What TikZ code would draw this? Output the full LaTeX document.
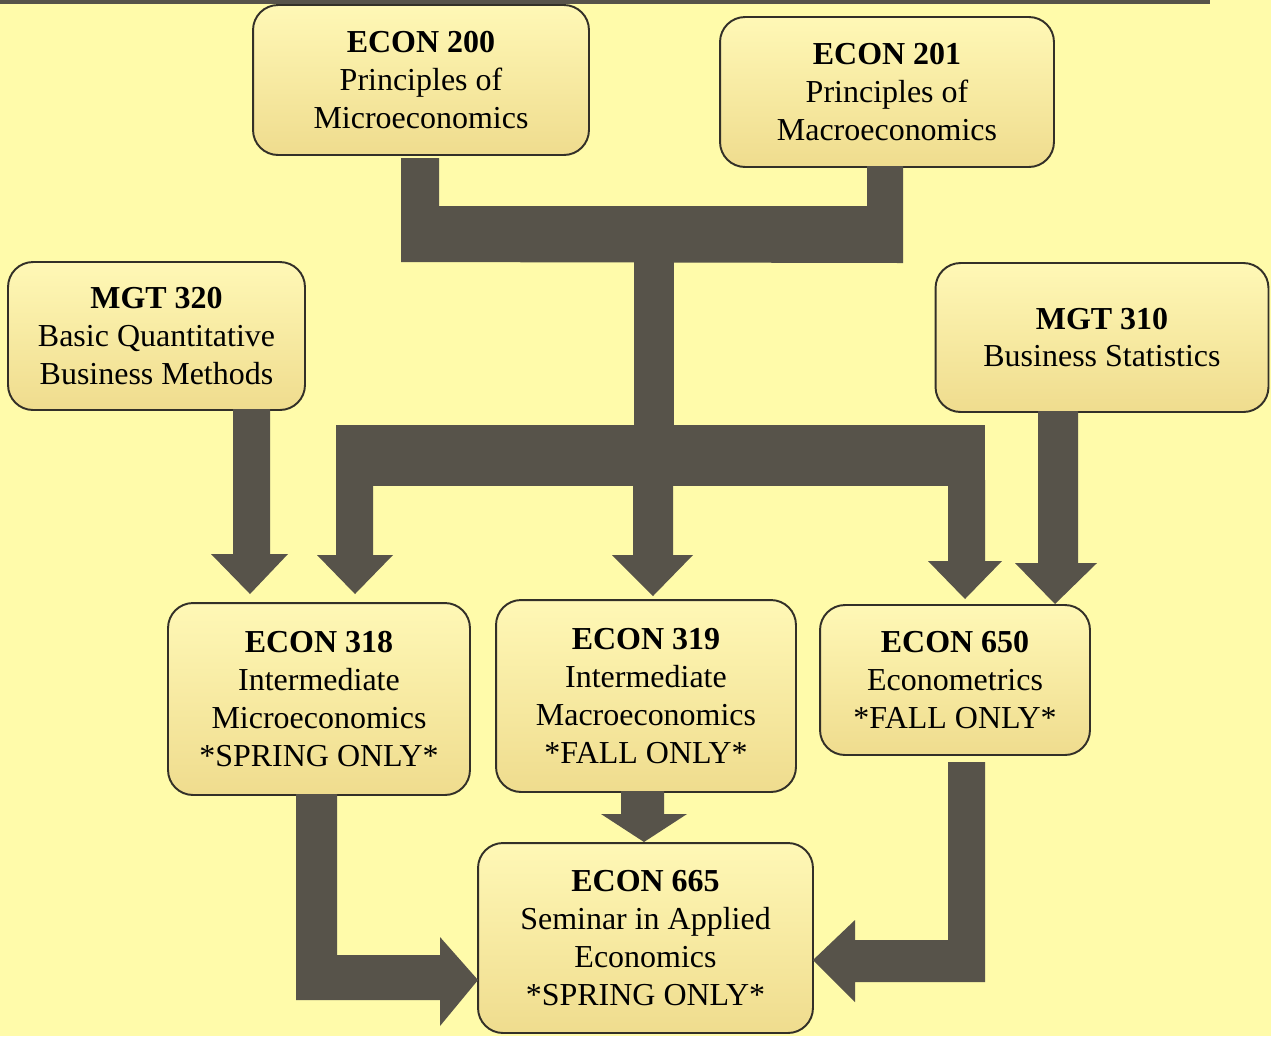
\documentclass[tikz,border=0pt]{standalone}
\usepackage{fontspec}
\setmainfont{Liberation Serif}
\definecolor{bg}{HTML}{FFFBAA}
\definecolor{boxtop}{HTML}{FFF8B6}
\definecolor{boxbot}{HTML}{EFDC8E}
\definecolor{conn}{HTML}{57534A}
\definecolor{edge}{HTML}{333028}
\tikzset{
  course/.style={draw=edge, line width=1.1pt, rounded corners=0.5cm,
    top color=boxtop, bottom color=boxbot, align=center, inner sep=0pt,
    font=\fontsize{18.2}{21.6}\selectfont},
  fat/.style={fill=conn, draw=none}
}
\begin{document}
\begin{tikzpicture}[x=0.02cm,y=-0.02cm]
\useasboundingbox (0,0) rectangle (1271,1036);
\fill[bg] (0,0) rectangle (1271,1036);
\fill[conn] (0,0) rectangle (1210,4);

% boxes
\node[course, minimum width=6.72cm, minimum height=3.0cm] (e200) at (421,80)
  {\textbf{ECON 200}\\Principles of\\Microeconomics};
\node[course, minimum width=6.68cm, minimum height=3.0cm] (e201) at (887,92)
  {\textbf{ECON 201}\\Principles of\\Macroeconomics};
\node[course, minimum width=5.94cm, minimum height=2.96cm] (m320) at (156.5,336)
  {\textbf{MGT 320}\\Basic Quantitative\\Business Methods};
\node[course, minimum width=6.66cm, minimum height=2.98cm] (m310) at (1102,337.5)
  {\textbf{MGT 310}\\Business Statistics};
\node[course, minimum width=6.04cm, minimum height=3.84cm] (e318) at (319,699)
  {\textbf{ECON 318}\\Intermediate\\Microeconomics\\*SPRING ONLY*};
\node[course, minimum width=6.0cm, minimum height=3.84cm] (e319) at (646,696)
  {\textbf{ECON 319}\\Intermediate\\Macroeconomics\\*FALL ONLY*};
\node[course, minimum width=5.4cm, minimum height=3.0cm] (e650) at (955,680)
  {\textbf{ECON 650}\\Econometrics\\*FALL ONLY*};
\node[course, minimum width=6.7cm, minimum height=3.8cm] (e665) at (645.5,938)
  {\textbf{ECON 665}\\Seminar in Applied\\Economics\\*SPRING ONLY*};

% top merge connector (ECON 200 + ECON 201 -> trunk)
\fill[fat] (401,158) -- (439,158) -- (439,206) -- (867,206) -- (867,166)
  -- (903,166) -- (903,263) -- (401,262) -- cycle;
% trunk and distribution bar
\fill[fat] (634,260) rectangle (674,430);
\fill[fat] (336,425) rectangle (985,486);
% down arrow to ECON 318
\fill[fat] (336,425) -- (373,425) -- (373,555) -- (393,555) -- (355,594)
  -- (317,555) -- (336,555) -- cycle;
% down arrow to ECON 319
\fill[fat] (633,480) -- (673,480) -- (673,555) -- (693,555) -- (653,596)
  -- (612,555) -- (633,555) -- cycle;
% down arrow to ECON 650
\fill[fat] (948,480) -- (985,480) -- (985,561) -- (1002,561) -- (965,599)
  -- (928,561) -- (948,561) -- cycle;
% MGT 320 -> ECON 318
\fill[fat] (233,409) -- (270,409) -- (270,554) -- (288,554) -- (250,594)
  -- (211,554) -- (233,554) -- cycle;
% MGT 310 -> ECON 650
\fill[fat] (1038,411) -- (1078,411) -- (1078,563) -- (1097,563) -- (1055,604)
  -- (1015,563) -- (1038,563) -- cycle;
% ECON 319 -> ECON 665
\fill[fat] (621,791) -- (664,791) -- (664,814) -- (687,814) -- (644,842)
  -- (601,814) -- (621,814) -- cycle;
% ECON 318 -> ECON 665
\fill[fat] (296,794) -- (337,794) -- (337,955) -- (440,955) -- (440,937)
  -- (478,980) -- (440,1026) -- (440,1000) -- (296,1000) -- cycle;
% ECON 650 -> ECON 665
\fill[fat] (948,762) -- (985,762) -- (985,982) -- (855,982) -- (855,1002)
  -- (813,960) -- (855,920) -- (855,940) -- (948,940) -- cycle;
\end{tikzpicture}
\end{document}
